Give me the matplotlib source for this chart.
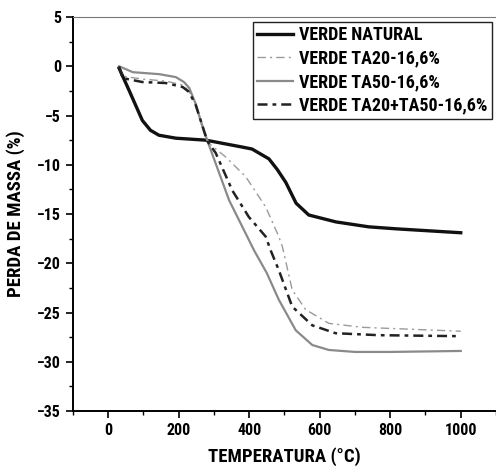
import matplotlib.pyplot as plt
from matplotlib.ticker import MultipleLocator

plt.rcParams['font.family'] = ['Roboto Condensed', 'Liberation Sans Narrow', 'Liberation Sans', 'DejaVu Sans']
plt.rcParams['font.weight'] = 'bold'
plt.rcParams['axes.labelweight'] = 'bold'

# Curvas TGA (temperatura em C, perda de massa em %)
t_natural = [31, 60, 97, 120, 144, 192, 277, 380, 408, 456, 480, 504, 533, 569, 646, 739, 816, 1000]
m_natural = [-0.2, -2.5, -5.5, -6.5, -7.0, -7.3, -7.5, -8.2, -8.4, -9.4, -10.5, -11.8, -13.9, -15.1,
             -15.8, -16.3, -16.5, -16.9]

t_ta20 = [31, 41, 97, 163, 211, 229, 248, 267, 285, 333, 390, 447, 484, 494, 522, 560, 626, 720, 1000]
m_ta20 = [0, -1.0, -1.3, -1.5, -1.9, -2.5, -3.8, -5.9, -7.8, -9.2, -11.2, -14.3, -17.3, -18.3,
          -22.7, -24.7, -26.1, -26.5, -26.9]

t_ta50 = [31, 70, 145, 192, 215, 230, 248, 267, 291, 343, 414, 450, 484, 532, 579, 626, 700, 800, 1000]
m_ta50 = [0, -0.6, -0.8, -1.1, -1.6, -2.2, -3.8, -6.1, -8.5, -13.6, -18.7, -21.0, -23.7, -26.8,
          -28.3, -28.8, -29.0, -29.0, -28.9]

t_mix = [31, 41, 97, 163, 211, 229, 248, 267, 281, 305, 352, 399, 447, 461, 484, 522, 579, 645, 768, 1000]
m_mix = [0, -1.2, -1.6, -1.7, -2.1, -2.6, -3.9, -6.0, -7.6, -8.8, -12.6, -15.3, -17.3, -18.7,
         -20.7, -24.4, -26.3, -27.1, -27.3, -27.4]

fig = plt.figure(figsize=(4.96, 4.73), dpi=100)
ax = fig.add_axes([0.147, 0.131, 0.853, 0.833])

ax.plot(t_natural, m_natural, color='#111111', lw=2.4, label='VERDE NATURAL')
ax.plot(t_ta20, m_ta20, color='#9a9a9a', lw=1.0, dashes=(6, 3, 1.5, 3), label='VERDE TA20-16,6%')
ax.plot(t_ta50, m_ta50, color='#8a8a8a', lw=1.6, label='VERDE TA50-16,6%')
ax.plot(t_mix, m_mix, color='#222222', lw=1.8, dashes=(4, 2, 1.5, 2), label='VERDE TA20+TA50-16,6%')

ax.set_xlim(-100, 1100)
ax.set_ylim(-35, 5)
ax.xaxis.set_major_locator(MultipleLocator(200))
ax.xaxis.set_minor_locator(MultipleLocator(100))
ax.yaxis.set_major_locator(MultipleLocator(5))
ax.yaxis.set_minor_locator(MultipleLocator(2.5))
ax.tick_params(which='major', direction='out', length=5, width=1.2, labelsize=11.5)
ax.tick_params(which='minor', direction='out', length=3, width=1)
ax.spines['right'].set_visible(False)
for s in ['left', 'bottom']:
    ax.spines[s].set_linewidth(1.4)
ax.spines['top'].set_linewidth(0.8)
ax.spines['top'].set_color('#777777')

ax.set_xlabel('TEMPERATURA (°C)', fontsize=13.5, labelpad=7)
ax.set_ylabel('PERDA DE MASSA (%)', fontsize=13.5, labelpad=9)

leg = ax.legend(loc='upper right', bbox_to_anchor=(0.99, 0.988), borderaxespad=0,
                fontsize=13, fancybox=False, framealpha=1, edgecolor='#222222',
                handlelength=2.0, handletextpad=0.3, labelspacing=0.3, borderpad=0.25)
leg.get_frame().set_linewidth(1.0)

fig.savefig('out.png', dpi=100)
